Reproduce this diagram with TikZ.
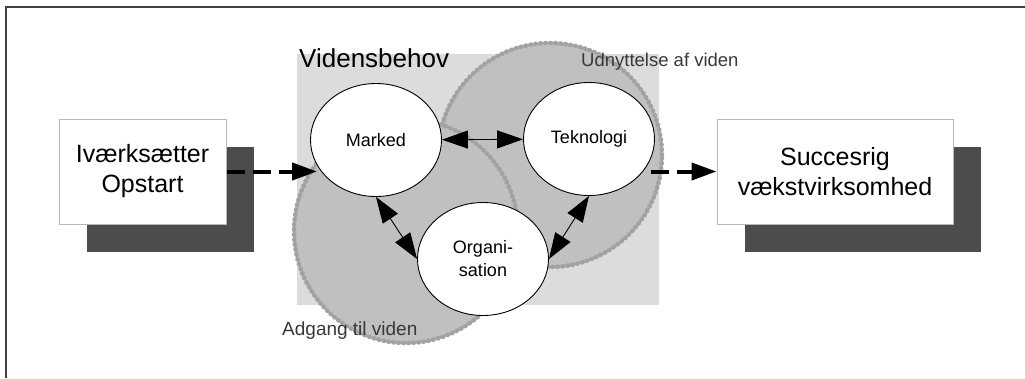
\documentclass[tikz,border=0pt]{standalone}
\usepackage{fontspec}
\setmainfont{Liberation Sans}
\usetikzlibrary{arrows.meta,positioning,shapes.geometric,shadows}

\definecolor{framegray}{HTML}{404040}
\definecolor{fieldgray}{HTML}{DCDCDC}
\definecolor{ringgray}{HTML}{C0C0C0}
\definecolor{dotgray}{HTML}{A2A2A2}
\definecolor{shadowgray}{HTML}{4C4C4C}
\definecolor{edgegray}{HTML}{B8B8B8}
\definecolor{labelgray}{HTML}{383838}

\begin{document}
\begin{tikzpicture}[
  x=1pt, y=-1pt,
  ring/.style={circle, fill=ringgray, minimum size=224pt, inner sep=0pt,
    postaction={draw=dotgray, line width=4.5pt, dash pattern=on 0.8pt off 4.2pt,
      line cap=round}},
  topic/.style={ellipse, draw, fill=white, line width=.9pt, minimum width=131pt,
    minimum height=113pt, inner sep=0pt, align=center,
    font=\fontsize{18}{23}\selectfont},
  stage/.style={draw=edgegray, fill=white, line width=1pt, minimum height=105pt,
    align=center, font=\fontsize{25}{30}\selectfont,
    drop shadow={shadow xshift=28pt, shadow yshift=-28pt, fill=shadowgray, opacity=1}},
  flow/.style={-{Triangle[length=25pt,width=17pt]}, line width=4pt,
    dash pattern=on 18pt off 8pt},
  link/.style={{Triangle[length=26pt,width=18pt]}-{Triangle[length=26pt,width=18pt]},
    line width=.9pt},
  area/.style={font=\fontsize{18.5}{22}\selectfont, text=labelgray, inner sep=0pt}
]
\useasboundingbox (0,0) rectangle (1025,378);
\draw[framegray, line width=1.5pt] (6,378) -- (6,7) -- (1025,7);

% field and the two rings
\fill[fieldgray] (297,54) rectangle (659,305);
\node[ring] (udnyt) at (550,155) {};
\node[ring] (adgang) at (406,231) {};

% the three topics
\node[topic] (marked) at (376,140) {Marked};
\node[topic] (tekno) at (589,139) {Teknologi};
\node[topic] (organ) at (483,259) {Organi-\\sation};

% start and goal
\node[stage, minimum width=167pt] (start) at (142.5,171.5) {Iværksætter\\Opstart};
\node[stage, minimum width=236pt] (goal) at (835,171.5) {Succesrig\\vækstvirksomhed};

\draw[flow] (start.east) -- ([xshift=7pt]start.east -| marked.west);
\draw[flow] ([xshift=-4pt]goal.west -| tekno.east) -- (goal.west);
\draw[link] (marked) -- (tekno);
\draw[link] (marked.south) -- (organ.west);
\draw[link] (tekno.south) -- (organ.east);

\node[anchor=base west, inner sep=0pt, font=\fontsize{26}{30}\selectfont] (behov) at (299,67) {Vidensbehov};
\node[area, anchor=base west] (udnytlabel) at (581,66) {Udnyttelse af viden};
\node[area, anchor=base west, font=\fontsize{19}{22}\selectfont] (adganglabel) at (282,335) {Adgang til viden};
\end{tikzpicture}
\end{document}
